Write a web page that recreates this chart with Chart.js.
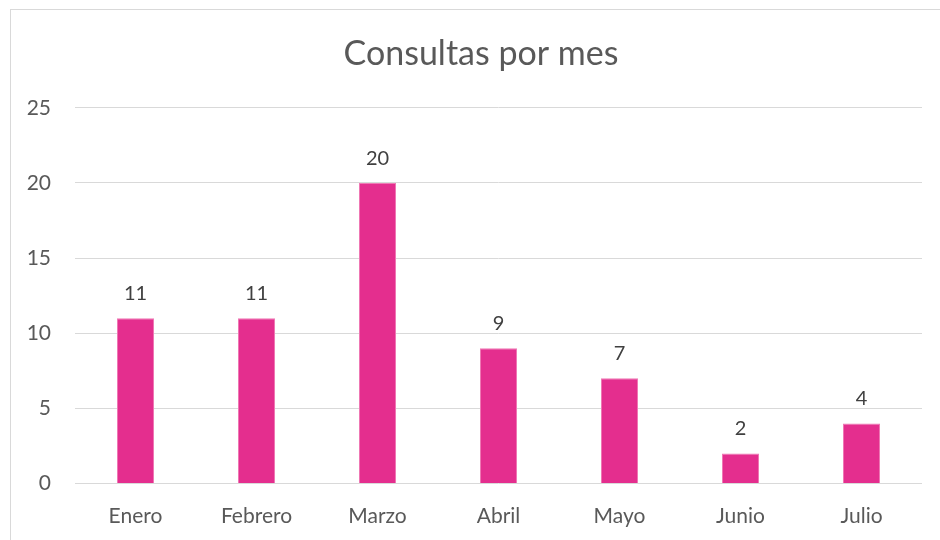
<!DOCTYPE html>
<html>
<head>
<meta charset="utf-8">
<script src="https://cdn.jsdelivr.net/npm/chart.js@4.4.1/dist/chart.umd.min.js"></script>
<style>
  html, body { margin: 0; padding: 0; background: #ffffff; overflow: hidden; }
  #wrap { position: relative; width: 940px; height: 540px; }
  #frame { position: absolute; left: 10px; top: 9px; width: 960px; height: 560px; border: 1px solid #D9D9D9; box-sizing: border-box; }
  canvas { position: absolute; left: 0; top: 0; }
</style>
</head>
<body>
<div id="wrap">
  <div id="frame"></div>
  <canvas id="c" width="940" height="540"></canvas>
</div>
<script>
const chartTitle = 'Consultas por mes';
const months = ['Enero', 'Febrero', 'Marzo', 'Abril', 'Mayo', 'Junio', 'Julio'];
const consultas = [11, 11, 20, 9, 7, 2, 4];
const yTicks = [0, 5, 10, 15, 20, 25];

const FONT = 'Lato, Carlito, Calibri, sans-serif';
const TEXT = '#595959';

const valueLabels = {
  id: 'valueLabels',
  afterLayout(chart) {
    const tb = chart.titleBlock;
    if (tb) { tb.left = 40; tb.right = 922; tb.width = tb.right - tb.left; }
  },
  afterDatasetsDraw(chart) {
    const ctx = chart.ctx;
    const meta = chart.getDatasetMeta(0);
    ctx.save();
    ctx.font = '20px ' + FONT;
    ctx.fillStyle = '#404040';
    ctx.textAlign = 'center';
    ctx.textBaseline = 'alphabetic';
    meta.data.forEach((bar, i) => {
      ctx.fillText(String(chart.data.datasets[0].data[i]), bar.x, bar.y - 18);
    });
    ctx.restore();
  }
};

new Chart(document.getElementById('c'), {
  type: 'bar',
  data: {
    labels: months,
    datasets: [{
      data: consultas,
      backgroundColor: '#E42E8E',
      borderColor: '#EF79B5',
      borderWidth: 1,
      categoryPercentage: 1,
      barPercentage: 0.306
    }]
  },
  options: {
    responsive: false,
    animation: false,
    layout: { padding: { left: 10, right: 18, top: 0, bottom: 0 } },
    plugins: {
      legend: { display: false },
      tooltip: { enabled: false },
      title: {
        display: true,
        text: chartTitle,
        color: TEXT,
        font: { family: FONT, size: 34, weight: 'normal' },
        padding: { top: 34, bottom: 33 }
      }
    },
    scales: {
      x: {
        grid: { display: false, drawTicks: false },
        border: { display: false },
        ticks: { color: TEXT, font: { family: FONT, size: 21 }, padding: 20 },
        afterFit(s) { s.height = 56.5; }
      },
      y: {
        min: 0, max: 25,
        afterBuildTicks(s) { s.ticks = yTicks.map(v => ({ value: v })); },
        grid: { color: '#D9D9D9', lineWidth: 1, drawTicks: false },
        border: { display: false },
        ticks: { color: TEXT, font: { family: FONT, size: 21 }, padding: 24 },
        afterFit(s) { s.width = 65; }
      }
    }
  },
  plugins: [valueLabels]
});
</script>
</body>
</html>
